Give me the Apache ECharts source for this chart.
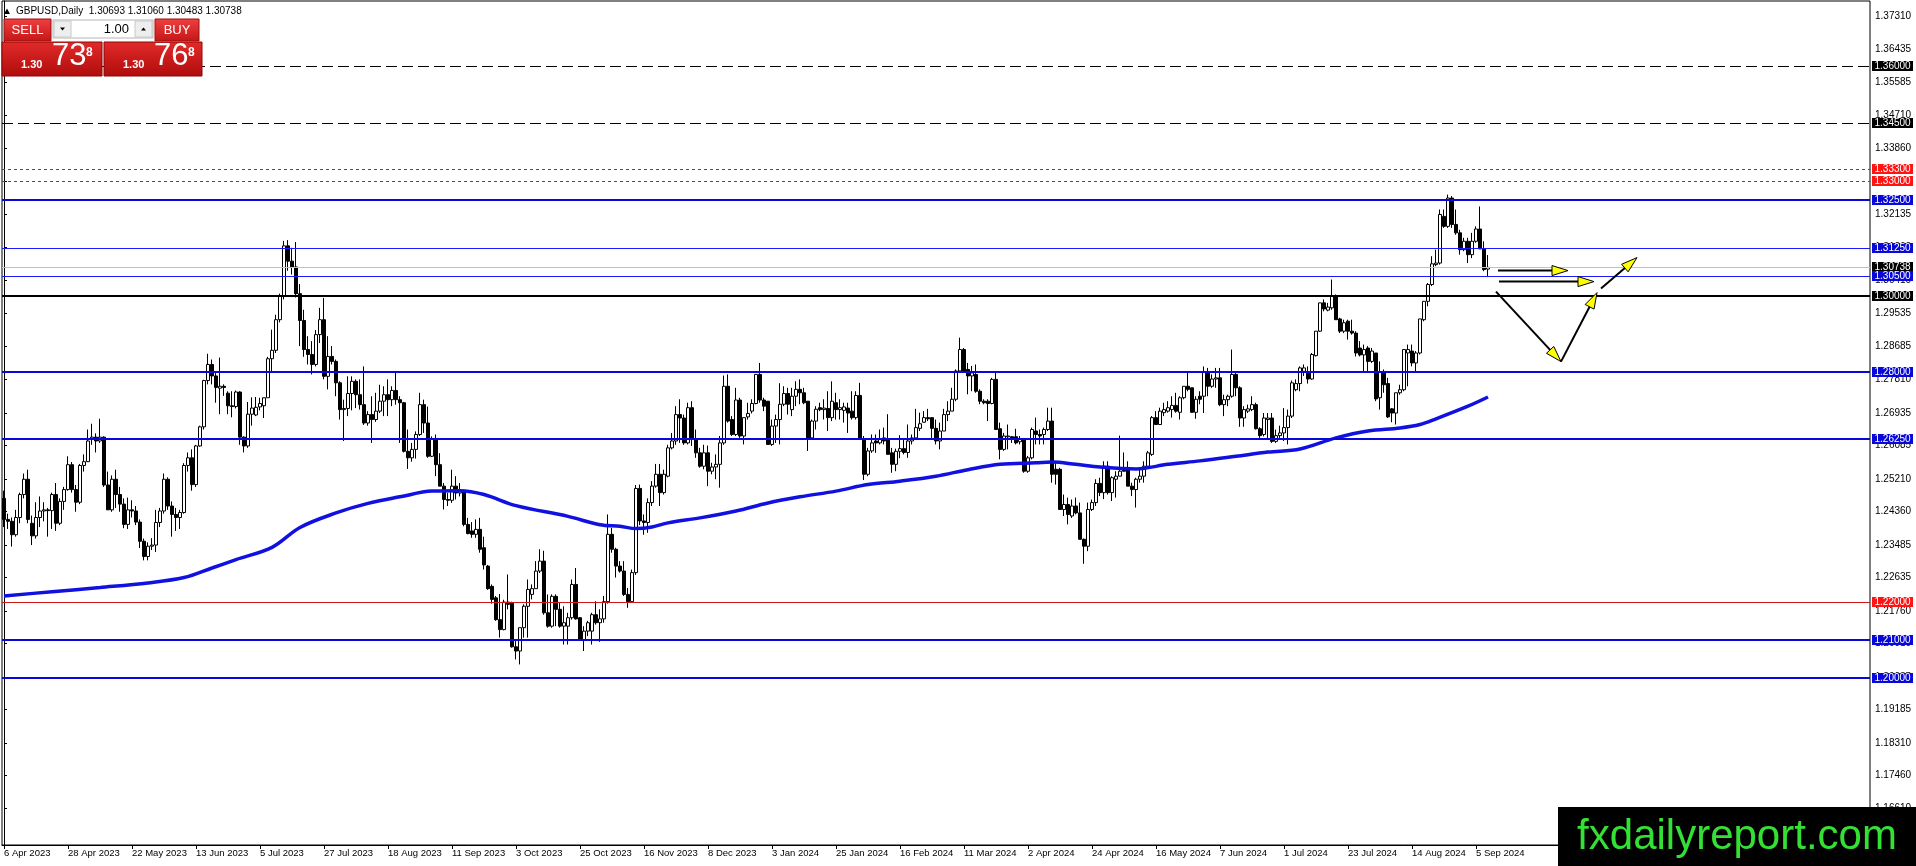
<!DOCTYPE html>
<html>
<head>
<meta charset="utf-8">
<script src="https://cdn.jsdelivr.net/npm/echarts@6/dist/echarts.min.js"></script>
<style>
html,body{margin:0;padding:0;background:#fff;}
#c{width:1916px;height:866px;}
</style>
</head>
<body>
<div id="c"></div>
<script>
// ---------------- DATA ----------------
const xTickLabels = ['6 Apr 2023','28 Apr 2023','22 May 2023','13 Jun 2023','5 Jul 2023','27 Jul 2023','18 Aug 2023','11 Sep 2023','3 Oct 2023','25 Oct 2023','16 Nov 2023','8 Dec 2023','3 Jan 2024','25 Jan 2024','16 Feb 2024','11 Mar 2024','2 Apr 2024','24 Apr 2024','16 May 2024','7 Jun 2024','1 Jul 2024','23 Jul 2024','14 Aug 2024','5 Sep 2024'];
const barsPerTick = 16;
const slotCount = 467;

// daily bars: [open, high, low, close]
const ohlc = [
[1.2470,1.2490,1.2395,1.2415],[1.2415,1.2430,1.2390,1.2410],[1.2410,1.2420,1.2344,1.2375],[1.2375,1.2440,1.2370,1.2420],[1.2420,1.2485,1.2405,1.2480],
[1.2480,1.2535,1.2470,1.2520],[1.2520,1.2545,1.2405,1.2415],[1.2405,1.2425,1.2348,1.2372],[1.2372,1.2460,1.2365,1.2420],[1.2420,1.2475,1.2395,1.2437],
[1.2437,1.2460,1.2410,1.2440],[1.2440,1.2445,1.2370,1.2438],[1.2438,1.2485,1.2390,1.2480],[1.2480,1.2510,1.2385,1.2405],[1.2405,1.2470,1.2400,1.2462],
[1.2462,1.2500,1.2440,1.2493],[1.2493,1.2580,1.2490,1.2558],[1.2558,1.2565,1.2485,1.2493],[1.2493,1.2505,1.2435,1.2460],[1.2460,1.2560,1.2455,1.2556],
[1.2556,1.2585,1.2540,1.2566],[1.2566,1.2650,1.2565,1.2620],[1.2625,1.2665,1.2610,1.2630],[1.2630,1.2640,1.2590,1.2620],[1.2620,1.2678,1.2615,1.2630],
[1.2630,1.2632,1.2500,1.2505],[1.2505,1.2540,1.2440,1.2440],[1.2440,1.2530,1.2435,1.2520],[1.2520,1.2545,1.2445,1.2480],[1.2480,1.2500,1.2435,1.2455],
[1.2455,1.2470,1.2392,1.2402],[1.2402,1.2472,1.2390,1.2440],[1.2440,1.2465,1.2420,1.2437],[1.2437,1.2450,1.2400,1.2408],[1.2408,1.2415,1.2340,1.2358],
[1.2358,1.2365,1.2308,1.2318],[1.2318,1.2355,1.2308,1.2345],[1.2345,1.2366,1.2335,1.2348],[1.2348,1.2440,1.2330,1.2407],[1.2407,1.2445,1.2395,1.2437],
[1.2437,1.2535,1.2430,1.2520],[1.2520,1.2525,1.2440,1.2450],[1.2450,1.2462,1.2370,1.2428],[1.2428,1.2445,1.2385,1.2420],[1.2420,1.2440,1.2390,1.2433],
[1.2433,1.2562,1.2430,1.2556],[1.2556,1.2590,1.2540,1.2576],[1.2576,1.2598,1.2490,1.2506],[1.2506,1.2610,1.2500,1.2607],[1.2607,1.2660,1.2605,1.2657],
[1.2657,1.2780,1.2650,1.2778],[1.2778,1.2848,1.2768,1.2820],[1.2820,1.2833,1.2768,1.2790],[1.2790,1.2800,1.2720,1.2760],[1.2758,1.2838,1.2690,1.2763],
[1.2763,1.2768,1.2738,1.2760],[1.2745,1.2750,1.2690,1.2712],[1.2712,1.2750,1.2682,1.2710],[1.2710,1.2752,1.2705,1.2748],[1.2748,1.2750,1.2610,1.2630],
[1.2630,1.2632,1.2590,1.2607],[1.2607,1.2722,1.2602,1.2690],[1.2690,1.2734,1.2660,1.2706],[1.2688,1.2735,1.2685,1.2708],[1.2709,1.2733,1.2700,1.2718],
[1.2712,1.2733,1.2680,1.2733],[1.2733,1.2840,1.2733,1.2835],[1.2835,1.2911,1.2800,1.2857],[1.2857,1.2950,1.2850,1.2937],[1.2937,1.3005,1.2930,1.2998],
[1.2998,1.3143,1.2990,1.3130],[1.3130,1.3145,1.3065,1.3090],[1.3090,1.3125,1.3055,1.3075],[1.3075,1.3140,1.2995,1.3005],[1.3005,1.3030,1.2868,1.2935],
[1.2935,1.2963,1.2840,1.2859],[1.2859,1.2894,1.2820,1.2846],[1.2846,1.2881,1.2794,1.2820],[1.2820,1.2910,1.2815,1.2898],[1.2898,1.2968,1.2876,1.2937],
[1.2937,1.2994,1.2781,1.2789],[1.2789,1.2894,1.2755,1.2841],[1.2841,1.2868,1.2820,1.2828],[1.2828,1.2833,1.2737,1.2772],[1.2772,1.2776,1.2676,1.2702],
[1.2702,1.2728,1.2620,1.2705],[1.2705,1.2789,1.2685,1.2744],[1.2744,1.2789,1.2700,1.2776],[1.2776,1.2781,1.2706,1.2741],[1.2741,1.2781,1.2702,1.2715],
[1.2715,1.2815,1.2662,1.2667],[1.2667,1.2698,1.2660,1.2689],[1.2689,1.2737,1.2615,1.2676],[1.2676,1.2746,1.2670,1.2698],[1.2698,1.2767,1.2693,1.2724],
[1.2724,1.2763,1.2685,1.2741],[1.2741,1.2781,1.2685,1.2728],[1.2728,1.2763,1.2711,1.2752],[1.2752,1.2798,1.2715,1.2728],[1.2728,1.2737,1.2615,1.2720],
[1.2720,1.2722,1.2590,1.2593],[1.2593,1.2650,1.2547,1.2576],[1.2576,1.2615,1.2566,1.2598],[1.2598,1.2645,1.2574,1.2637],[1.2637,1.2746,1.2633,1.2715],
[1.2715,1.2728,1.2641,1.2667],[1.2667,1.2710,1.2576,1.2580],[1.2580,1.2632,1.2578,1.2624],[1.2624,1.2637,1.2528,1.2558],[1.2558,1.2588,1.2502,1.2502],
[1.2502,1.2510,1.2441,1.2467],[1.2467,1.2484,1.2450,1.2465],[1.2465,1.2545,1.2458,1.2502],[1.2502,1.2528,1.2467,1.2484],[1.2484,1.2510,1.2475,1.2489],
[1.2489,1.2493,1.2397,1.2402],[1.2402,1.2419,1.2376,1.2378],[1.2385,1.2408,1.2367,1.2376],[1.2376,1.2415,1.2367,1.2389],[1.2389,1.2419,1.2328,1.2337],
[1.2341,1.2370,1.2284,1.2296],[1.2293,1.2296,1.2231,1.2234],[1.2240,1.2245,1.2195,1.2206],[1.2210,1.2215,1.2150,1.2153],[1.2153,1.2220,1.2106,1.2127],
[1.2127,1.2205,1.2125,1.2199],[1.2199,1.2271,1.2180,1.2193],[1.2197,1.2200,1.2080,1.2082],[1.2082,1.2101,1.2049,1.2071],[1.2071,1.2132,1.2036,1.2132],
[1.2132,1.2193,1.2106,1.2188],[1.2188,1.2258,1.2106,1.2232],[1.2219,1.2245,1.2206,1.2234],[1.2234,1.2306,1.2234,1.2280],[1.2280,1.2337,1.2275,1.2306],
[1.2306,1.2333,1.2166,1.2171],[1.2171,1.2219,1.2132,1.2136],[1.2136,1.2219,1.2132,1.2214],[1.2214,1.2219,1.2136,1.2180],[1.2180,1.2197,1.2132,1.2136],
[1.2136,1.2188,1.2088,1.2145],[1.2136,1.2171,1.2088,1.2158],[1.2158,1.2258,1.2153,1.2245],[1.2245,1.2288,1.2153,1.2155],[1.2158,1.2160,1.2101,1.2101],
[1.2101,1.2136,1.2071,1.2123],[1.2123,1.2150,1.2110,1.2145],[1.2123,1.2171,1.2088,1.2166],[1.2166,1.2201,1.2140,1.2145],[1.2145,1.2180,1.2095,1.2155],
[1.2155,1.2215,1.2145,1.2200],[1.2200,1.2428,1.2195,1.2376],[1.2376,1.2393,1.2328,1.2337],[1.2337,1.2341,1.2263,1.2293],[1.2293,1.2306,1.2276,1.2280],
[1.2280,1.2306,1.2215,1.2219],[1.2219,1.2236,1.2184,1.2200],[1.2200,1.2284,1.2197,1.2276],[1.2276,1.2505,1.2270,1.2496],[1.2496,1.2506,1.2400,1.2411],
[1.2411,1.2428,1.2375,1.2407],[1.2407,1.2470,1.2380,1.2459],[1.2459,1.2515,1.2450,1.2502],[1.2502,1.2560,1.2498,1.2533],[1.2533,1.2560,1.2450,1.2485],
[1.2485,1.2545,1.2480,1.2533],[1.2528,1.2610,1.2525,1.2602],[1.2602,1.2641,1.2598,1.2620],[1.2620,1.2711,1.2610,1.2689],[1.2689,1.2729,1.2615,1.2680],
[1.2680,1.2689,1.2610,1.2615],[1.2615,1.2720,1.2611,1.2707],[1.2707,1.2724,1.2607,1.2624],[1.2624,1.2650,1.2576,1.2589],[1.2589,1.2602,1.2550,1.2554],
[1.2554,1.2610,1.2546,1.2589],[1.2589,1.2608,1.2502,1.2541],[1.2541,1.2563,1.2533,1.2552],[1.2552,1.2585,1.2520,1.2559],[1.2559,1.2633,1.2498,1.2615],
[1.2615,1.2791,1.2610,1.2763],[1.2763,1.2794,1.2668,1.2672],[1.2676,1.2685,1.2633,1.2637],[1.2637,1.2759,1.2633,1.2727],[1.2727,1.2733,1.2628,1.2633],
[1.2633,1.2681,1.2611,1.2681],[1.2683,1.2720,1.2676,1.2692],[1.2698,1.2729,1.2692,1.2718],[1.2718,1.2794,1.2716,1.2794],[1.2794,1.2824,1.2720,1.2727],
[1.2727,1.2733,1.2698,1.2711],[1.2724,1.2724,1.2611,1.2611],[1.2611,1.2676,1.2607,1.2659],[1.2659,1.2689,1.2615,1.2676],[1.2676,1.2771,1.2611,1.2716],
[1.2716,1.2763,1.2711,1.2744],[1.2744,1.2759,1.2689,1.2716],[1.2702,1.2759,1.2685,1.2737],[1.2737,1.2776,1.2711,1.2755],[1.2755,1.2781,1.2716,1.2746],
[1.2746,1.2759,1.2716,1.2720],[1.2724,1.2724,1.2594,1.2628],[1.2628,1.2676,1.2624,1.2672],[1.2672,1.2711,1.2650,1.2703],[1.2707,1.2720,1.2698,1.2702],
[1.2702,1.2729,1.2676,1.2706],[1.2705,1.2750,1.2646,1.2681],[1.2681,1.2776,1.2672,1.2724],[1.2720,1.2746,1.2676,1.2702],[1.2702,1.2729,1.2676,1.2707],
[1.2700,1.2720,1.2668,1.2709],[1.2706,1.2720,1.2641,1.2693],[1.2698,1.2750,1.2676,1.2681],[1.2681,1.2750,1.2676,1.2739],[1.2739,1.2772,1.2624,1.2624],
[1.2624,1.2633,1.2518,1.2533],[1.2533,1.2602,1.2528,1.2594],[1.2594,1.2637,1.2589,1.2615],[1.2620,1.2637,1.2589,1.2615],[1.2615,1.2650,1.2611,1.2624],
[1.2628,1.2655,1.2611,1.2620],[1.2624,1.2690,1.2585,1.2585],[1.2589,1.2602,1.2537,1.2559],[1.2559,1.2600,1.2541,1.2593],[1.2593,1.2635,1.2575,1.2600],
[1.2600,1.2624,1.2585,1.2590],[1.2590,1.2663,1.2576,1.2620],[1.2620,1.2637,1.2611,1.2628],[1.2628,1.2704,1.2624,1.2655],[1.2653,1.2694,1.2646,1.2665],
[1.2669,1.2698,1.2668,1.2681],[1.2681,1.2704,1.2672,1.2678],[1.2681,1.2681,1.2624,1.2653],[1.2653,1.2676,1.2611,1.2620],[1.2620,1.2668,1.2598,1.2646],
[1.2646,1.2704,1.2646,1.2689],[1.2689,1.2724,1.2672,1.2698],[1.2698,1.2759,1.2698,1.2729],[1.2729,1.2807,1.2724,1.2803],[1.2803,1.2890,1.2803,1.2859],
[1.2859,1.2863,1.2798,1.2803],[1.2807,1.2824,1.2742,1.2790],[1.2790,1.2816,1.2750,1.2798],[1.2794,1.2820,1.2746,1.2750],[1.2750,1.2755,1.2716,1.2724],
[1.2724,1.2729,1.2716,1.2720],[1.2724,1.2729,1.2672,1.2718],[1.2718,1.2785,1.2716,1.2781],[1.2781,1.2798,1.2650,1.2650],[1.2652,1.2668,1.2572,1.2598],
[1.2598,1.2641,1.2594,1.2633],[1.2631,1.2663,1.2598,1.2633],[1.2631,1.2633,1.2615,1.2624],[1.2631,1.2652,1.2611,1.2615],[1.2618,1.2633,1.2611,1.2624],
[1.2624,1.2624,1.2537,1.2541],[1.2541,1.2581,1.2537,1.2576],[1.2576,1.2655,1.2572,1.2650],[1.2646,1.2681,1.2611,1.2637],[1.2637,1.2650,1.2611,1.2633],
[1.2637,1.2655,1.2611,1.2650],[1.2650,1.2707,1.2646,1.2672],[1.2672,1.2707,1.2511,1.2533],[1.2546,1.2567,1.2506,1.2533],[1.2546,1.2550,1.2441,1.2441],
[1.2441,1.2480,1.2424,1.2454],[1.2454,1.2472,1.2402,1.2428],[1.2424,1.2467,1.2419,1.2450],[1.2450,1.2472,1.2428,1.2432],[1.2432,1.2459,1.2363,1.2363],
[1.2363,1.2365,1.2299,1.2345],[1.2345,1.2459,1.2332,1.2441],[1.2441,1.2467,1.2437,1.2459],[1.2459,1.2520,1.2450,1.2509],[1.2509,1.2524,1.2476,1.2485],
[1.2485,1.2567,1.2468,1.2554],[1.2554,1.2567,1.2480,1.2485],[1.2485,1.2528,1.2463,1.2524],[1.2520,1.2541,1.2472,1.2528],[1.2528,1.2634,1.2528,1.2541],
[1.2546,1.2590,1.2541,1.2541],[1.2546,1.2567,1.2502,1.2502],[1.2502,1.2511,1.2476,1.2493],[1.2493,1.2524,1.2446,1.2520],[1.2520,1.2546,1.2511,1.2528],
[1.2528,1.2567,1.2511,1.2554],[1.2554,1.2594,1.2550,1.2589],[1.2585,1.2685,1.2581,1.2681],[1.2681,1.2698,1.2663,1.2663],[1.2663,1.2707,1.2663,1.2698],
[1.2694,1.2720,1.2685,1.2702],[1.2698,1.2724,1.2694,1.2707],[1.2702,1.2737,1.2681,1.2713],[1.2713,1.2746,1.2694,1.2698],[1.2695,1.2737,1.2676,1.2733],
[1.2733,1.2763,1.2729,1.2763],[1.2763,1.2798,1.2750,1.2755],[1.2759,1.2759,1.2694,1.2695],[1.2695,1.2737,1.2678,1.2729],[1.2737,1.2750,1.2716,1.2729],
[1.2737,1.2815,1.2693,1.2800],[1.2800,1.2811,1.2737,1.2763],[1.2763,1.2794,1.2759,1.2782],[1.2782,1.2811,1.2759,1.2785],[1.2785,1.2811,1.2711,1.2715],
[1.2715,1.2741,1.2685,1.2728],[1.2728,1.2741,1.2711,1.2737],[1.2737,1.2859,1.2733,1.2794],[1.2794,1.2798,1.2737,1.2759],[1.2759,1.2763,1.2657,1.2680],
[1.2680,1.2711,1.2657,1.2702],[1.2698,1.2715,1.2693,1.2704],[1.2702,1.2737,1.2698,1.2715],[1.2715,1.2720,1.2650,1.2652],[1.2652,1.2656,1.2628,1.2634],
[1.2637,1.2693,1.2632,1.2680],[1.2676,1.2693,1.2624,1.2680],[1.2680,1.2693,1.2615,1.2619],[1.2619,1.2650,1.2615,1.2634],[1.2634,1.2660,1.2628,1.2641],
[1.2641,1.2706,1.2620,1.2655],[1.2655,1.2702,1.2611,1.2685],[1.2685,1.2778,1.2680,1.2772],[1.2754,1.2781,1.2750,1.2770],[1.2770,1.2815,1.2750,1.2811],
[1.2802,1.2820,1.2790,1.2811],[1.2800,1.2815,1.2770,1.2782],[1.2782,1.2850,1.2780,1.2846],[1.2843,1.2907,1.2841,1.2907],[1.2907,1.2981,1.2905,1.2981],
[1.2981,1.2990,1.2959,1.2965],[1.2962,1.2981,1.2959,1.2970],[1.2968,1.3042,1.2963,1.3000],[1.3000,1.3003,1.2937,1.2937],[1.2939,1.2942,1.2902,1.2907],
[1.2907,1.2937,1.2902,1.2929],[1.2933,1.2937,1.2885,1.2907],[1.2907,1.2937,1.2898,1.2902],[1.2902,1.2907,1.2841,1.2850],[1.2863,1.2881,1.2841,1.2845],
[1.2845,1.2872,1.2800,1.2859],[1.2863,1.2868,1.2802,1.2828],[1.2828,1.2863,1.2824,1.2855],[1.2850,1.2850,1.2724,1.2730],[1.2733,1.2828,1.2702,1.2800],
[1.2800,1.2807,1.2746,1.2767],[1.2770,1.2785,1.2680,1.2683],[1.2704,1.2706,1.2669,1.2693],[1.2693,1.2746,1.2663,1.2746],[1.2746,1.2767,1.2741,1.2754],
[1.2754,1.2859,1.2750,1.2859],[1.2850,1.2872,1.2763,1.2859],[1.2855,1.2872,1.2815,1.2824],[1.2824,1.2855,1.2798,1.2850],[1.2850,1.2939,1.2846,1.2939],
[1.2937,1.2985,1.2933,1.2985],[1.2985,1.3033,1.2972,1.3029],[1.3029,1.3103,1.3025,1.3083],[1.3081,1.3120,1.3077,1.3085],[1.3085,1.3225,1.3081,1.3212],
[1.3207,1.3225,1.3177,1.3181],[1.3181,1.3264,1.3177,1.3255],[1.3255,1.3260,1.3177,1.3186],[1.3186,1.3225,1.3159,1.3164],[1.3164,1.3172,1.3107,1.3120],
[1.3120,1.3151,1.3116,1.3142],[1.3142,1.3151,1.3085,1.3107],[1.3107,1.3164,1.3098,1.3142],[1.3142,1.3181,1.3138,1.3174],[1.3174,1.3233,1.3122,1.3122],
[1.3122,1.3142,1.3064,1.3068],[1.30693,1.31060,1.30483,1.30738]
];

// moving average: [bar index, value]
const maPoints = [
[0,1.2215],[12,1.2226],[24,1.2237],[36,1.2249],[45,1.2263],[52,1.2288],[58,1.2310],[67,1.2342],[74,1.2394],
[83,1.2432],[91,1.2457],[99,1.2474],[107,1.2489],[114,1.2490],[120,1.2480],[128,1.2451],[141,1.2423],[149,1.2401],
[154,1.2397],[158,1.2391],[162,1.2395],[166,1.2406],[174,1.2419],[183,1.2437],[191,1.2458],[199,1.2474],[208,1.2489],
[216,1.2506],[224,1.2515],[233,1.2528],[241,1.2545],[249,1.2559],[258,1.2563],[262,1.2565],[268,1.2559],[274,1.2552],
[283,1.2547],[291,1.2559],[299,1.2568],[308,1.2580],[316,1.2591],[324,1.2599],[333,1.2628],[341,1.2646],[349,1.2654],
[354,1.2663],[358,1.2678],[366,1.2711],[371,1.2735]
];

// right-axis tick labels
const yTicks = [1.16610,1.17460,1.18310,1.19185,1.20035,1.20910,1.21760,1.22635,1.23485,1.24360,1.25210,1.26085,1.26935,1.27810,1.28685,1.29535,1.30410,1.31260,1.32135,1.32985,1.33860,1.34710,1.35585,1.36435,1.37310];
const yMin = 1.1564, yMax = 1.3770;

// horizontal levels (prices only)
const bidPrice = 1.30738;
const askPrice = 1.30768;
const blackDashedLevels = [1.36000, 1.34500];
const redDottedLevels = [1.33300, 1.33000];
const redSolidLevels = [1.22000];
const blueThickLevels = [1.32500, 1.28000, 1.26250, 1.21000, 1.20000];
const blueThinLevels = [1.31250, 1.30500];
const blackSolidLevels = [1.30000];

// projection arrows: [bar1, price1, bar2, price2]
const arrows = [
[373.5,1.30654,391.0,1.30654],
[373.75,1.30366,397.5,1.30366],
[373.0,1.30105,389.25,1.28275],
[389.25,1.28275,398.25,1.30078],
[399.25,1.30183,408.25,1.30993]
];

// ---------------- STYLES ----------------
const FONT = 'Liberation Sans, Arial, sans-serif';
const BLUE = '#0808d8';
const RED = '#ff1414';
const levelStyles = [
  {stroke: '#c0c0c0', dash: null, width: 1, box: '#000000'},   // 0 bid
  {stroke: '#000000', dash: [11, 5], width: 1, box: '#000000'},// 1 dashed black
  {stroke: '#e01010', dash: [3, 3], width: 1, box: RED},       // 2 dotted red
  {stroke: '#d01818', dash: null, width: 1, box: RED},         // 3 solid red
  {stroke: BLUE, dash: null, width: 2, box: BLUE},             // 4 blue thick
  {stroke: '#1a1aff', dash: null, width: 1, box: BLUE},        // 5 blue thin
  {stroke: '#000000', dash: null, width: 2, box: '#000000'}    // 6 black thick
];
const levelItems = [];
levelItems.push([0, bidPrice, 0]);
blackDashedLevels.forEach(p => levelItems.push([0, p, 1]));
redDottedLevels.forEach(p => levelItems.push([0, p, 2]));
redSolidLevels.forEach(p => levelItems.push([0, p, 3]));
blueThickLevels.forEach(p => levelItems.push([0, p, 4]));
blueThinLevels.forEach(p => levelItems.push([0, p, 5]));
blackSolidLevels.forEach(p => levelItems.push([0, p, 6]));

// ---------------- CHART ----------------
const chart = echarts.init(document.getElementById('c'), null, {renderer: 'canvas', width: 1916, height: 866});
const cats = Array.from({length: slotCount}, (_, i) => String(i));
const candleData = ohlc.map(r => [r[0], r[3], r[2], r[1]]);

const last = ohlc[ohlc.length - 1];
const headerText = 'GBPUSD,Daily  ' + last.map(v => v.toFixed(5)).join(' ');
function splitPrice(p) {
  const s = p.toFixed(5);
  return {big: s.slice(0, 4), pips: s.slice(4, 6), frac: s.slice(6)};
}
const sellP = splitPrice(bidPrice), buyP = splitPrice(askPrice);

const btnGrad = () => new echarts.graphic.LinearGradient(0, 0, 0, 1, [{offset: 0, color: '#ee4040'}, {offset: 1, color: '#c41616'}]);
const boxGrad = () => new echarts.graphic.LinearGradient(0, 0, 0, 1, [{offset: 0, color: '#e22a2a'}, {offset: 1, color: '#b00c0c'}]);

const graphics = [
  {type: 'polygon', z: 100, shape: {points: [[4, 14], [10, 14], [7, 8.5]]}, style: {fill: '#000'}},
  {type: 'text', z: 100, x: 16, y: 11, style: {text: headerText, fill: '#000', font: '10px ' + FONT, verticalAlign: 'middle'}},
  {type: 'rect', z: 100, shape: {x: 4, y: 19, width: 47, height: 22}, style: {fill: btnGrad(), stroke: '#a00e0e', lineWidth: 1}},
  {type: 'text', z: 101, x: 27.5, y: 30, style: {text: 'SELL', fill: '#fff', font: '13px ' + FONT, align: 'center', verticalAlign: 'middle'}},
  {type: 'rect', z: 100, shape: {x: 53, y: 20, width: 100, height: 18}, style: {fill: '#fff', stroke: '#b4b4b4', lineWidth: 1}},
  {type: 'rect', z: 101, shape: {x: 54, y: 21, width: 17, height: 16}, style: {fill: '#eeeeee', stroke: '#c8c8c8', lineWidth: 1}},
  {type: 'polygon', z: 102, shape: {points: [[60, 27.5], [65, 27.5], [62.5, 30.5]]}, style: {fill: '#000'}},
  {type: 'rect', z: 101, shape: {x: 135, y: 21, width: 17, height: 16}, style: {fill: '#eeeeee', stroke: '#c8c8c8', lineWidth: 1}},
  {type: 'polygon', z: 102, shape: {points: [[141, 30.5], [146, 30.5], [143.5, 27.5]]}, style: {fill: '#000'}},
  {type: 'text', z: 101, x: 129, y: 29, style: {text: '1.00', fill: '#000', font: '13px ' + FONT, align: 'right', verticalAlign: 'middle'}},
  {type: 'rect', z: 100, shape: {x: 155, y: 19, width: 44, height: 22}, style: {fill: btnGrad(), stroke: '#a00e0e', lineWidth: 1}},
  {type: 'text', z: 101, x: 177, y: 30, style: {text: 'BUY', fill: '#fff', font: '13px ' + FONT, align: 'center', verticalAlign: 'middle'}},
  {type: 'rect', z: 100, shape: {x: 2, y: 42, width: 100, height: 34}, style: {fill: boxGrad(), stroke: '#8c0808', lineWidth: 1}},
  {type: 'rect', z: 100, shape: {x: 104, y: 42, width: 98, height: 34}, style: {fill: boxGrad(), stroke: '#8c0808', lineWidth: 1}},
  {type: 'text', z: 101, x: 21, y: 70, style: {text: sellP.big, fill: '#fff', font: 'bold 11px ' + FONT, verticalAlign: 'bottom'}},
  {type: 'text', z: 101, x: 52, y: 72, style: {text: sellP.pips, fill: '#fff', font: '31px ' + FONT, verticalAlign: 'bottom'}},
  {type: 'text', z: 101, x: 86, y: 47, style: {text: sellP.frac, fill: '#fff', font: 'bold 12px ' + FONT, verticalAlign: 'top'}},
  {type: 'text', z: 101, x: 123, y: 70, style: {text: buyP.big, fill: '#fff', font: 'bold 11px ' + FONT, verticalAlign: 'bottom'}},
  {type: 'text', z: 101, x: 154, y: 72, style: {text: buyP.pips, fill: '#fff', font: '31px ' + FONT, verticalAlign: 'bottom'}},
  {type: 'text', z: 101, x: 188, y: 47, style: {text: buyP.frac, fill: '#fff', font: 'bold 12px ' + FONT, verticalAlign: 'top'}},
  {type: 'rect', z: 100, shape: {x: 1558, y: 807, width: 358, height: 59}, style: {fill: '#000'}},
  {type: 'text', z: 101, x: 1737, y: 837, style: {text: 'fxdailyreport.com', fill: '#35e035', font: '42px ' + FONT, align: 'center', verticalAlign: 'middle'}}
];

const tickShown = i => i % barsPerTick === 0 && i / barsPerTick < xTickLabels.length;

const option = {
  animation: false,
  backgroundColor: '#fff',
  grid: {left: 2, top: 1, width: 1868, height: 844, show: true, borderColor: '#000', borderWidth: 1, backgroundColor: 'transparent', containLabel: false, outerBoundsMode: 'none'},
  xAxis: [
    {
      type: 'category', data: cats, boundaryGap: true,
      axisLine: {show: true, lineStyle: {color: '#000', width: 1}},
      axisTick: {show: true, length: 4, alignWithLabel: true, lineStyle: {color: '#000'}, interval: tickShown},
      axisLabel: {show: true, color: '#000', fontSize: 9.5, fontFamily: FONT, align: 'left', margin: 3,
        interval: tickShown, formatter: (v, i) => xTickLabels[i / barsPerTick] || ''},
      splitLine: {show: false}
    },
    {type: 'value', min: -0.5, max: slotCount - 0.5, show: false, splitLine: {show: false}}
  ],
  yAxis: {
    type: 'value', position: 'right', min: yMin, max: yMax, scale: true,
    axisLine: {show: true, lineStyle: {color: '#000'}},
    axisTick: {show: true, length: 3, inside: false, customValues: yTicks, lineStyle: {color: '#000'}},
    axisLabel: {show: true, customValues: yTicks, color: '#000', fontSize: 10, fontFamily: FONT, margin: 5,
      formatter: v => v.toFixed(5), showMinLabel: true, showMaxLabel: true},
    splitLine: {show: false}
  },
  graphic: graphics,
  series: [
    {
      name: 'GBPUSD', type: 'candlestick', xAxisIndex: 0, yAxisIndex: 0, data: candleData,
      barWidth: 3, z: 2,
      itemStyle: {color: '#ffffff', color0: '#000000', borderColor: '#000000', borderColor0: '#000000', borderWidth: 1}
    },
    {
      name: 'MA', type: 'line', xAxisIndex: 1, yAxisIndex: 0, data: maPoints, smooth: 0.35,
      showSymbol: false, symbol: 'none', z: 3,
      lineStyle: {color: '#1010e0', width: 3.5}
    },
    {
      name: 'levels', type: 'custom', xAxisIndex: 1, yAxisIndex: 0, data: levelItems, clip: false, z: 4, silent: true,
      encode: {x: 0, y: 1},
      renderItem: (params, api) => {
        const cs = params.coordSys;
        const price = api.value(1);
        const st = levelStyles[api.value(2)];
        const yRaw = api.coord([0, price])[1];
        const y = st.width % 2 === 1 ? Math.round(yRaw) + 0.5 : Math.round(yRaw);
        const right = cs.x + cs.width;
        const lineStyle = {stroke: st.stroke, lineWidth: st.width};
        if (st.dash) lineStyle.lineDash = st.dash;
        return {
          type: 'group',
          children: [
            {type: 'line', shape: {x1: cs.x, y1: y, x2: right, y2: y}, style: lineStyle},
            {type: 'rect', shape: {x: right + 2, y: Math.round(yRaw) - 5, width: 41, height: 10}, style: {fill: st.box}},
            {type: 'text', style: {x: right + 4.5, y: Math.round(yRaw) + 0.5, text: price.toFixed(5), fill: '#fff',
              font: '10px ' + FONT, verticalAlign: 'middle', align: 'left'}}
          ]
        };
      }
    },
    {
      name: 'arrows', type: 'custom', xAxisIndex: 1, yAxisIndex: 0, data: arrows, clip: false, z: 6, silent: true,
      encode: {x: [0, 2], y: [1, 3]},
      renderItem: (params, api) => {
        const p1 = api.coord([api.value(0), api.value(1)]);
        const p2 = api.coord([api.value(2), api.value(3)]);
        const dx = p2[0] - p1[0], dy = p2[1] - p1[1];
        const len = Math.hypot(dx, dy) || 1;
        const ux = dx / len, uy = dy / len;
        const L = 16, W = 5;
        const bx = p2[0] - ux * L, by = p2[1] - uy * L;
        const nx = -uy, ny = ux;
        return {
          type: 'group',
          children: [
            {type: 'line', shape: {x1: p1[0], y1: p1[1], x2: bx, y2: by}, style: {stroke: '#000', lineWidth: 2}},
            {type: 'polygon', shape: {points: [[p2[0], p2[1]], [bx + nx * W, by + ny * W], [bx - nx * W, by - ny * W]]},
              style: {fill: '#ffff00', stroke: '#000', lineWidth: 1}}
          ]
        };
      }
    }
  ]
};
chart.setOption(option);
</script>
</body>
</html>
